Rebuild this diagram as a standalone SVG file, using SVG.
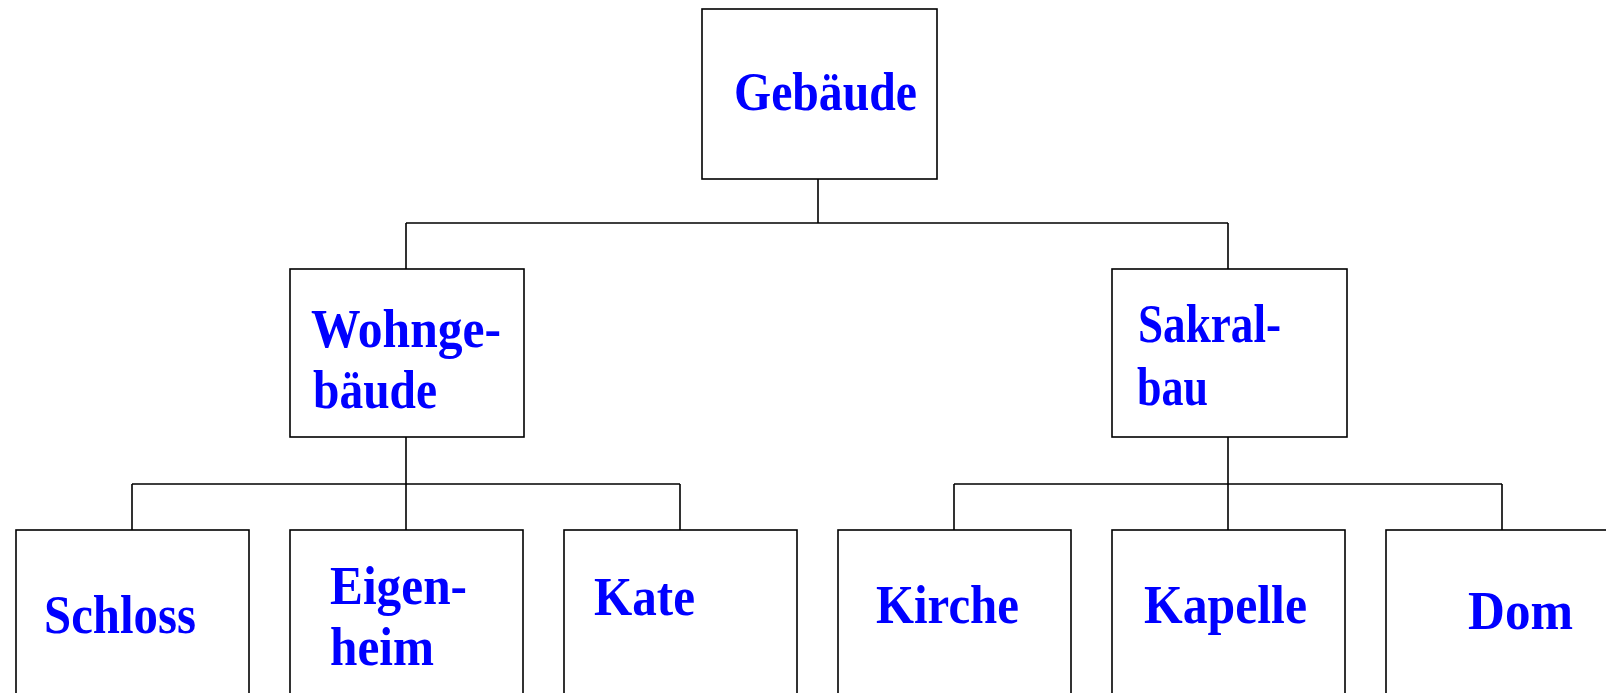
<svg xmlns="http://www.w3.org/2000/svg" width="1606" height="693" viewBox="0 0 1606 693">
<style>
.box{fill:#fff;stroke:#000;stroke-width:1.6}
.con{fill:none;stroke:#000;stroke-width:1.6}
.lbl{font-family:"Liberation Serif","Times New Roman",serif;font-weight:bold;font-size:55px;fill:#0000ff}
</style>
<rect width="1606" height="693" fill="#fff"/>
<g id="connectors">
<path class="con" d="M818 179V223M406 223H1228M406 223V269M1228 223V269"/>
<path class="con" d="M406 437V484M132 484H680M132 484V530M406 484V530M680 484V530"/>
<path class="con" d="M1228 437V484M954 484H1502M954 484V530M1228 484V530M1502 484V530"/>
</g>
<g id="gebaeude"><rect class="box" x="702" y="9" width="235" height="170"/><text class="lbl" x="734" y="110" textLength="183" lengthAdjust="spacingAndGlyphs">Gebäude</text></g>
<g id="wohngebaeude"><rect class="box" x="290" y="269" width="234" height="168"/><text class="lbl" x="311" y="347" textLength="190" lengthAdjust="spacingAndGlyphs">Wohnge-</text><text class="lbl" x="313" y="408" textLength="124" lengthAdjust="spacingAndGlyphs">bäude</text></g>
<g id="sakralbau"><rect class="box" x="1112" y="269" width="235" height="168"/><text class="lbl" x="1138" y="342" textLength="143" lengthAdjust="spacingAndGlyphs">Sakral-</text><text class="lbl" x="1137" y="405" textLength="71" lengthAdjust="spacingAndGlyphs">bau</text></g>
<g id="schloss"><rect class="box" x="16" y="530" width="233" height="200"/><text class="lbl" x="44" y="633" textLength="152" lengthAdjust="spacingAndGlyphs">Schloss</text></g>
<g id="eigenheim"><rect class="box" x="290" y="530" width="233" height="200"/><text class="lbl" x="330" y="604" textLength="137" lengthAdjust="spacingAndGlyphs">Eigen-</text><text class="lbl" x="330" y="665" textLength="104" lengthAdjust="spacingAndGlyphs">heim</text></g>
<g id="kate"><rect class="box" x="564" y="530" width="233" height="200"/><text class="lbl" x="594" y="615" textLength="101" lengthAdjust="spacingAndGlyphs">Kate</text></g>
<g id="kirche"><rect class="box" x="838" y="530" width="233" height="200"/><text class="lbl" x="876" y="623" textLength="143" lengthAdjust="spacingAndGlyphs">Kirche</text></g>
<g id="kapelle"><rect class="box" x="1112" y="530" width="233" height="200"/><text class="lbl" x="1144" y="623" textLength="163" lengthAdjust="spacingAndGlyphs">Kapelle</text></g>
<g id="dom"><rect class="box" x="1386" y="530" width="234" height="200"/><text class="lbl" x="1468" y="629" textLength="105" lengthAdjust="spacingAndGlyphs">Dom</text></g>
</svg>
